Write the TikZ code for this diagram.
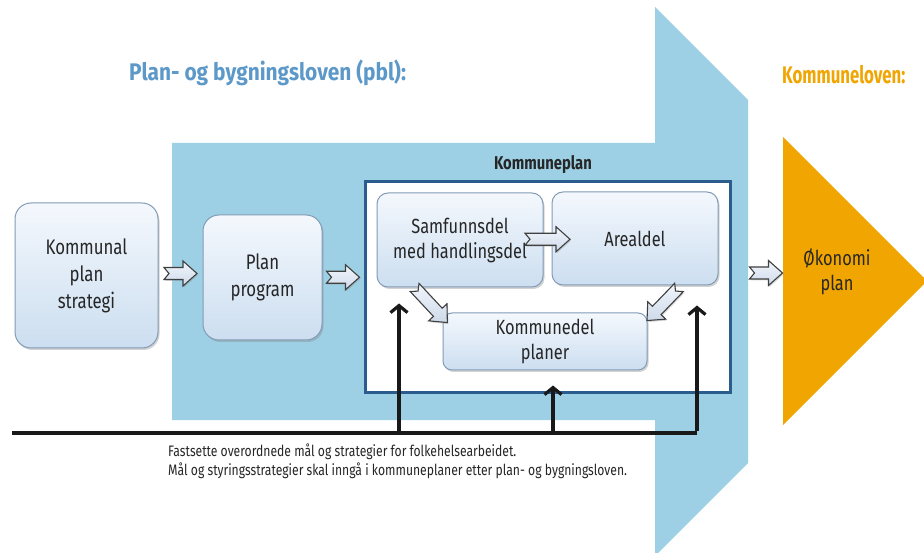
\documentclass[tikz,border=0pt]{standalone}
\usepackage{fontspec}
\setmainfont{Fira Sans}[FakeStretch=0.8]
\newfontfamily\capfont{Fira Sans}[FakeStretch=0.8]
\newfontfamily\titfont{Fira Sans}[FakeStretch=0.87]
\newfontfamily\korfont{Fira Sans}[FakeStretch=0.7]
\usetikzlibrary{shadows,arrows.meta,calc}
\definecolor{bgblue}{RGB}{157,208,228}
\definecolor{kpblue}{RGB}{42,92,142}
\definecolor{titleblue}{RGB}{92,152,200}
\definecolor{orangeK}{RGB}{240,165,0}
\definecolor{boxtop}{RGB}{244,248,253}
\definecolor{boxbot}{RGB}{204,222,240}
\definecolor{boxline}{RGB}{130,155,182}
\definecolor{artop}{RGB}{242,246,252}
\definecolor{arbot}{RGB}{206,218,234}
\tikzset{
  box/.style={draw=boxline, line width=1pt, rounded corners=16pt, top color=boxtop, bottom color=boxbot,
    align=center, inner sep=0pt, drop shadow={opacity=0.35, shadow xshift=1.5pt, shadow yshift=-2pt},
    font=\fontsize{21}{27}\selectfont, text=black!85},
  ibox/.style={box, rounded corners=11pt, font=\fontsize{20.5}{25}\selectfont},
  barrowstyle/.style={draw=black!75, line width=1.1pt, top color=artop, bottom color=arbot, line join=miter},
  barrow/.pic={\path[barrowstyle, drop shadow={opacity=0.3, shadow xshift=1pt, shadow yshift=-1.5pt}]
     ({-#1/2},6) -- ({#1/2-14},6) -- ({#1/2-14},12.5) -- ({#1/2},0) -- ({#1/2-14},-12.5)
     -- ({#1/2-14},-6) -- ({-#1/2},-6) -- ({-#1/2+5},0) -- cycle;},
  blk/.style={line width=3.4pt, draw=black!90},
  blkarrow/.style={blk, -{Straight Barb[length=7pt,width=17pt,line width=3.2pt]}}
}
\begin{document}
\begin{tikzpicture}[x=1pt,y=-1pt]
\useasboundingbox[fill=white] (0,0) rectangle (924,553);
% big blue arrow background
\fill[bgblue] (172,143) -- (655,143) -- (655,7) -- (748,100) -- (748,463) -- (655,556)
  -- (655,420) -- (172,420) -- cycle;
% orange triangle
\fill[orangeK] (783,137) -- (927,281) -- (783,425) -- cycle;
% titles
\node[anchor=base west, text=titleblue, font=\titfont\fontsize{24}{28}\selectfont\bfseries, inner sep=0pt] (t1) at (129,81) {Plan- og bygningsloven (pbl):};
\node[anchor=base west, text=orangeK, font=\korfont\fontsize{24}{28}\selectfont\bfseries, inner sep=0pt] (t2) at (782,84) {Kommuneloven:};
% left boxes
\node[box, minimum width=143pt, minimum height=145pt] (kps) at (86.5,275.5) {Kommunal\\plan\\strategi};
\node[box, minimum width=119pt, minimum height=125pt] (pp) at (262.5,277.5) {Plan\\program};
% Kommuneplan frame
\node[draw=kpblue, line width=3pt, fill=white, minimum width=365pt, minimum height=210pt, inner sep=0pt] (kp) at (547.5,287) {};
\node[font=\fontsize{18.5}{20}\selectfont\bfseries, text=black!85, inner sep=0pt] (kplabel) at (543,165) {Kommuneplan};
\node[ibox, minimum width=166pt, minimum height=94pt] (sam) at (460,240) {Samfunnsdel\\med handlingsdel};
\node[ibox, minimum width=166pt, minimum height=93pt] (are) at (635,238.5) {Arealdel};
\node[ibox, minimum width=204pt, minimum height=57pt, rounded corners=9pt] (kdp) at (545,341.5) {Kommunedel\\planer};
% Okonomiplan
\node[font=\fontsize{20.5}{25}\selectfont, text=black!85, align=center, inner sep=0pt] (oko) at (837,272) {Økonomi\\plan};
% block arrows
\pic at ($(kps.east)!0.5!(pp.west)+(0,-3)$) {barrow=33};
\pic at ($(pp.east)!0.5!(kp.west)+(0,-5)$) {barrow=33};
\pic at ($(sam.east)!0.5!(are.west)$) {barrow=45};
\pic[rotate=-47] at (431,305) {barrow=48};
\pic[rotate=-134] at (663,304) {barrow=46};
\pic at (766,273) {barrow=33};
% black lines
\coordinate (start) at (12,433);
\coordinate (j1) at (399,433);
\coordinate (j2) at (553,433);
\coordinate (j3) at (697,433);
\draw[blk] (start) -- (j3);
\draw[blkarrow] (j1) -- ([yshift=-16pt]sam.south -| j1);
\draw[blkarrow] (j2) -- ([yshift=-15pt]kdp.south -| j2);
\draw[blkarrow] ([yshift=1.7pt]j3) -- ([yshift=-20pt]are.south -| j3);
% caption
\node[anchor=north west, align=left, font=\capfont\fontsize{15.2}{19}\selectfont, text=black!85, inner sep=0pt] (cap) at (168,444)
 {Fastsette overordnede mål og strategier for folkehelsearbeidet.\\
  Mål og styringsstrategier skal inngå i kommuneplaner etter plan- og bygningsloven.};
\end{tikzpicture}
\end{document}
